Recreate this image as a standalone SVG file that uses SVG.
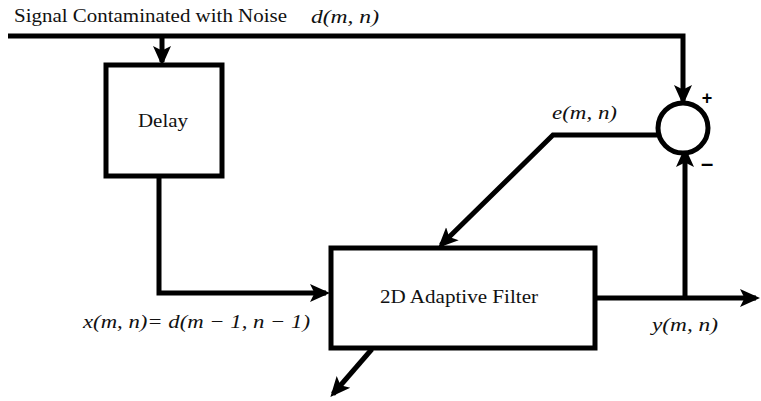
<svg xmlns="http://www.w3.org/2000/svg" width="761" height="401" viewBox="0 0 761 401">
<style>
.w{fill:none;stroke:#000;stroke-width:5;stroke-linejoin:miter}
.b{fill:#fff;stroke:#000;stroke-width:5}
.t{font-family:"Liberation Serif",serif;font-size:18px;fill:#111}
.m{font-family:"Liberation Serif",serif;font-style:italic;font-size:19px;fill:#111}
.s{font-family:"Liberation Sans",sans-serif;font-weight:bold;fill:#000}
</style>
<defs>
<marker id="a" markerWidth="4" markerHeight="4" refX="3.2" refY="2" orient="auto" markerUnits="strokeWidth">
<path d="M0,0.2 L4,2 L0,3.8 L0.9,2 Z" fill="#000"/>
</marker>
</defs>
<rect width="761" height="401" fill="#fff"/>
<g id="labels">
<text class="t" x="14" y="22" textLength="273" lengthAdjust="spacingAndGlyphs">Signal Contaminated with Noise</text>
<text class="m" x="311" y="23" textLength="68" lengthAdjust="spacingAndGlyphs">d(m, n)</text>
<text class="m" x="552" y="119" textLength="65" lengthAdjust="spacingAndGlyphs">e(m, n)</text>
<text class="m" x="652" y="331" textLength="66" lengthAdjust="spacingAndGlyphs">y(m, n)</text>
<text class="m" x="83" y="328" textLength="227" lengthAdjust="spacingAndGlyphs">x(m, n)= d(m − 1, n − 1)</text>
<text class="s" x="707" y="104" font-size="18" text-anchor="middle">+</text>
<text class="s" x="707" y="171" font-size="22" text-anchor="middle">–</text>
</g>
<g id="connectors">
<path class="w" d="M8,36 H683 V101" marker-end="url(#a)"/>
<path class="w" d="M162,36 V62" marker-end="url(#a)"/>
<path class="w" d="M159,177 V293 H326" marker-end="url(#a)"/>
<path class="w" d="M595,298 H756" marker-end="url(#a)"/>
<path class="w" d="M685,298 V151" marker-end="url(#a)"/>
<path class="w" d="M658,135 H553 L441,245" marker-end="url(#a)"/>
<path class="w" d="M372,349 L333,394" marker-end="url(#a)"/>
</g>
<g id="delay">
<rect class="b" x="106" y="65" width="116" height="111"/>
<text class="t" x="138" y="127" textLength="50" lengthAdjust="spacingAndGlyphs">Delay</text>
</g>
<g id="filter">
<rect class="b" x="331" y="248" width="264" height="100"/>
<text class="t" x="380" y="303" textLength="158" lengthAdjust="spacingAndGlyphs">2D Adaptive Filter</text>
</g>
<g id="sum">
<circle class="b" cx="683" cy="128" r="25"/>
</g>
</svg>
